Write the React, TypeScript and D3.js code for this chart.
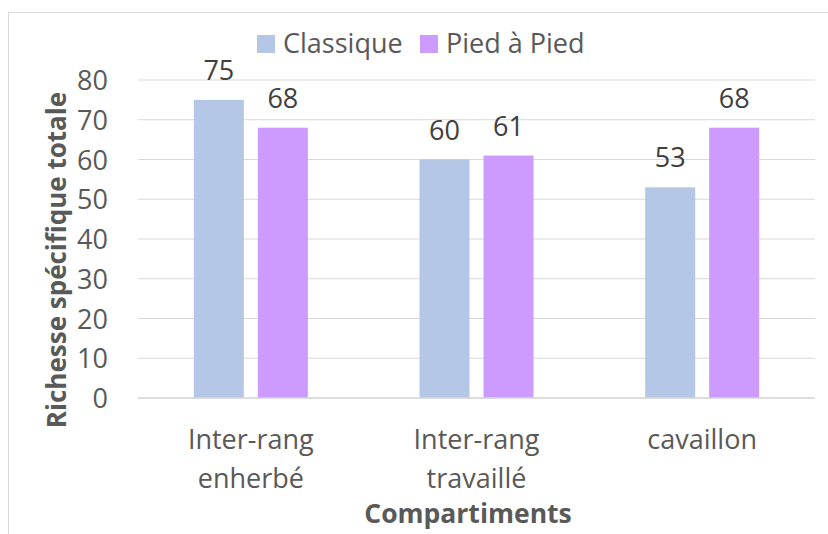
import React from "react";
import * as d3 from "d3";

const categories: string[][] = [["Inter-rang", "enherbé"], ["Inter-rang", "travaillé"], ["cavaillon"]];
const seriesNames = ["Classique", "Pied à Pied"];
const classique = [75, 60, 53];
const piedAPied = [68, 61, 68];
const yTicks = [0, 10, 20, 30, 40, 50, 60, 70, 80];
const colors = ["#B4C7E7", "#CC9BFD"];
const yTitle = "Richesse spécifique totale";
const xTitle = "Compartiments";

const W = 828, H = 534;
const font = "'Open Sans', 'Liberation Sans', sans-serif";
const textColor = "#595959";

export default function App() {
  const x0 = d3.scaleBand<number>().domain(d3.range(categories.length)).range([138, 815]).paddingInner(0).paddingOuter(0);
  const y = d3.scaleLinear().domain([0, 80]).range([398, 80]);
  const series = [classique, piedAPied];
  const barW = 50, gap = 14;
  return (
    <svg width={W} height={H} style={{ position: "absolute", left: 0, top: 0 }} fontFamily={font}>
      <rect x={0} y={0} width={W} height={H} fill="#fff" />
      <rect x={8.5} y={12.5} width={W + 10} height={H + 10} fill="none" stroke="#D9D9D9" strokeWidth={1} />
      {yTicks.map((t) => (
        <g key={t}>
          <line x1={138} x2={815} y1={y(t)} y2={y(t)} stroke="#D9D9D9" strokeWidth={1} />
          <text x={108} y={y(t) + 10} textAnchor="end" fontSize={27} fill={textColor}>{t}</text>
        </g>
      ))}
      {categories.map((c, i) => {
        const cx = x0(i)! + x0.bandwidth() / 2;
        return (
          <g key={i}>
            {series.map((s, j) => {
              const bx = j === 0 ? cx - gap / 2 - barW : cx + gap / 2;
              return (
                <g key={j}>
                  <rect x={bx} y={y(s[i])} width={barW} height={y(0) - y(s[i])} fill={colors[j]} />
                  <text x={bx + barW / 2} y={y(s[i]) - 20} textAnchor="middle" fontSize={27} fill="#404040">{s[i]}</text>
                </g>
              );
            })}
            {c.map((line, k) => (
              <text key={k} x={cx} y={449 + k * 39} textAnchor="middle" fontSize={27} fill={textColor}>{line}</text>
            ))}
          </g>
        );
      })}
      <line x1={138} x2={815} y1={y(0)} y2={y(0)} stroke="#D9D9D9" strokeWidth={1.5} />
      <text x={468} y={523} textAnchor="middle" fontSize={26.5} fontWeight="bold" fill={textColor}>{xTitle}</text>
      <text transform={`translate(66,260) rotate(-90)`} textAnchor="middle" fontSize={26} fontWeight="bold" fill={textColor}>{yTitle}</text>
      {seriesNames.map((n, j) => {
        const lx = j === 0 ? 257 : 420;
        return (
          <g key={n}>
            <rect x={lx} y={35} width={18} height={18} fill={colors[j]} />
            <text x={lx + 26} y={53} fontSize={27} fill={textColor}>{n}</text>
          </g>
        );
      })}
    </svg>
  );
}
